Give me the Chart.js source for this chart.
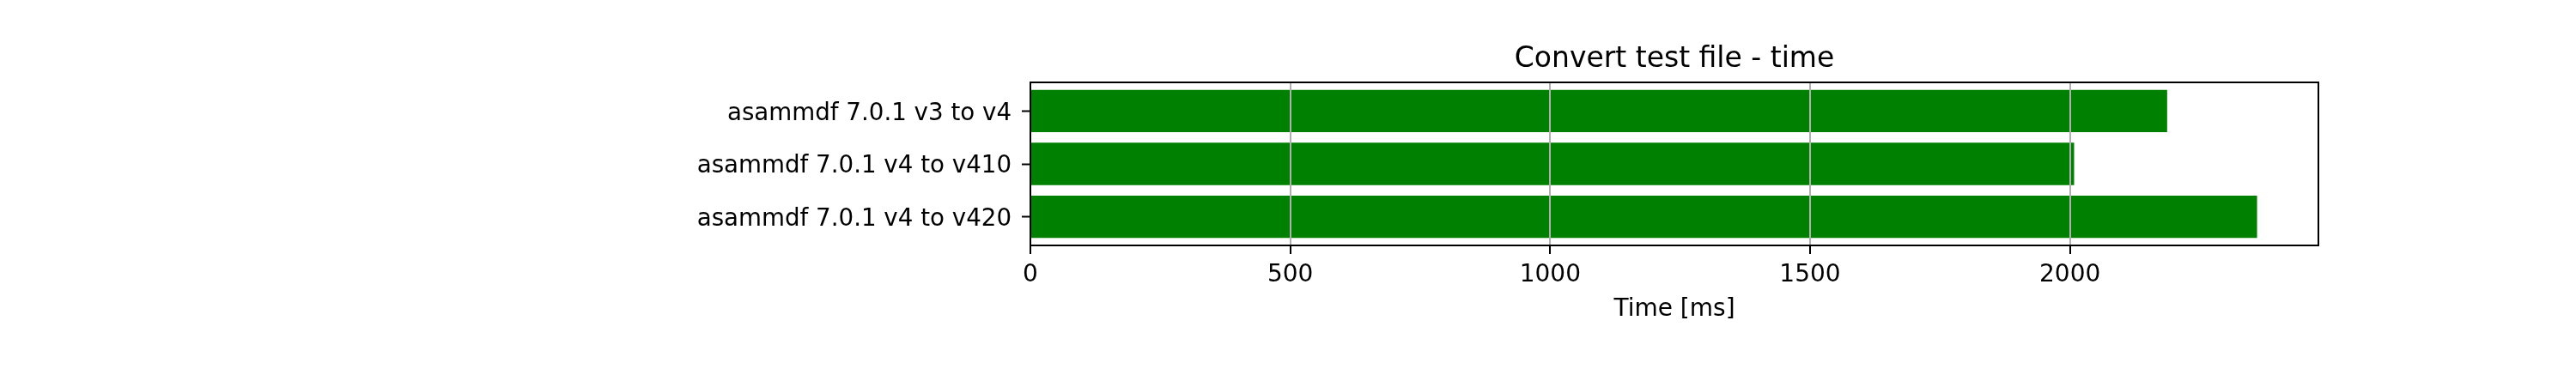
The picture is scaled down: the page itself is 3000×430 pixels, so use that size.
<!DOCTYPE html>
<html>
<head>
<meta charset="utf-8">
<script src="https://cdn.jsdelivr.net/npm/chart.js@4"></script>
<style>
  body { margin: 0; background: #fff; }
</style>
</head>
<body>
<canvas id="myChart" width="3000" height="430"></canvas>
<script>
let labels = ['asammdf 7.0.1 v3 to v4', 'asammdf 7.0.1 v4 to v410', 'asammdf 7.0.1 v4 to v420'];
let times = [2187, 2008, 2360];
let xTicks = [0, 500, 1000, 1500, 2000];
let title = 'Convert test file - time';

let font = 'DejaVu Sans';

// matplotlib-like frame, grid above the bars, title centred over the axes
let frame = {
	id: 'frame',
	afterDatasetsDraw(chart) {
		chart.scales.x.drawGrid(chart.chartArea);
		let a = chart.chartArea;
		let ctx = chart.ctx;
		ctx.save();
		ctx.strokeStyle = '#000';
		ctx.lineWidth = 2;
		ctx.strokeRect(a.left, a.top, a.right - a.left, a.bottom - a.top);
		ctx.fillStyle = '#000';
		ctx.font = '33px "' + font + '"';
		ctx.textAlign = 'center';
		ctx.textBaseline = 'alphabetic';
		ctx.fillText(title, (a.left + a.right) / 2, a.top - 18);
		ctx.restore();
	}
};

let ctx = document.getElementById('myChart').getContext('2d');

let chart = new Chart(ctx, {
	type: 'bar',
	data: {
		datasets: [{
			data: times.map((v, i) => ({ x: v, y: i })),
			backgroundColor: '#008000',
			borderWidth: 0,
			barPercentage: 0.8,
			categoryPercentage: 1
		}]
	},
	options: {
		indexAxis: 'y',
		responsive: false,
		animation: false,
		devicePixelRatio: 1,
		layout: { padding: { left: 0, right: 300, top: 96, bottom: 0 } },
		plugins: {
			legend: { display: false },
			tooltip: { enabled: false },
			title: { display: false }
		},
		scales: {
			x: {
				type: 'linear',
				min: 0,
				max: 2478,
				offset: false,
				afterFit(scale) { scale.height = 144; },
				afterBuildTicks(scale) { scale.ticks = xTicks.map(v => ({ value: v })); },
				ticks: {
					color: '#000',
					font: { family: font, size: 28 },
					padding: 8,
					maxRotation: 0,
					callback: v => String(v)
				},
				grid: {
					offset: false,
					color: '#b0b0b0',
					lineWidth: 2,
					tickColor: '#000',
					tickLength: 10,
					tickWidth: 2
				},
				border: { color: '#000', width: 2 },
				title: {
					display: true,
					text: 'Time [ms]',
					color: '#000',
					font: { family: font, size: 28 },
					padding: { top: 0, bottom: 52 }
				}
			},
			y: {
				type: 'linear',
				min: -0.54,
				max: 2.54,
				reverse: true,
				offset: false,
				afterFit(scale) { scale.width = 1200; },
				afterBuildTicks(scale) { scale.ticks = labels.map((l, i) => ({ value: i })); },
				ticks: {
					color: '#000',
					font: { family: font, size: 27.7 },
					padding: 12,
					labelOffset: 3,
					callback: v => labels[v]
				},
				grid: {
					offset: false,
					drawOnChartArea: false,
					tickColor: '#000',
					tickLength: 10,
					tickWidth: 2
				},
				border: { color: '#000', width: 2 }
			}
		}
	},
	plugins: [frame]
});
</script>
</body>
</html>
